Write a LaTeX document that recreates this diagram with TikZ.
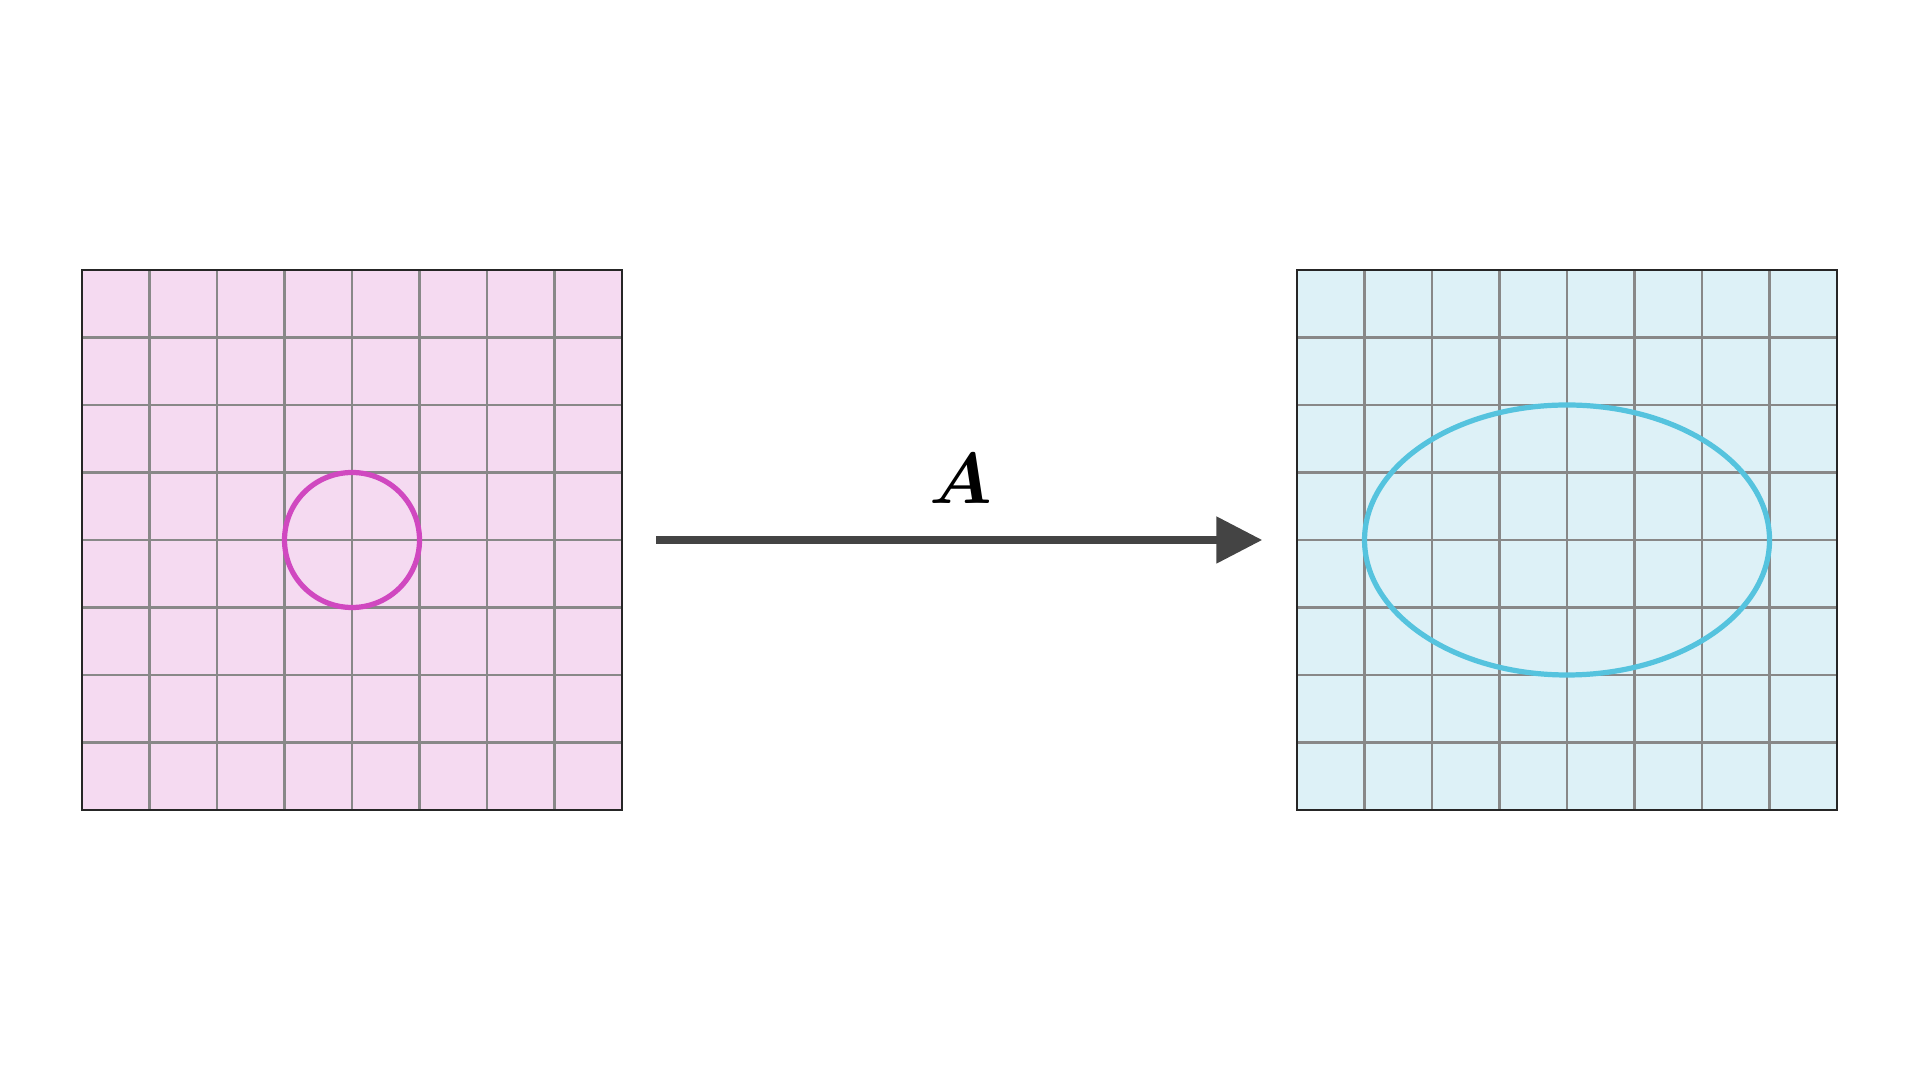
\documentclass[tikz,border=0pt]{standalone}
\usepackage{amsmath,bm}
\usetikzlibrary{arrows.meta}
\definecolor{pinkfill}{HTML}{F5DAF1}
\definecolor{cyanfill}{HTML}{DDF1F7}
\definecolor{circmag}{HTML}{D048C0}
\definecolor{ellcyan}{HTML}{55C3DE}
\definecolor{gridgray}{HTML}{888888}
\definecolor{arrowgray}{HTML}{444444}
\tikzset{
  gridline/.style={draw=gridgray, line width=1.1pt},
  frame/.style={draw=black!85, line width=0.5pt},
  shape curve/.style={line width=2.2pt},
  maparrow/.style={draw=arrowgray, line width=3.2pt, -{Triangle[length=0.68cm,width=0.67cm]}}
}
\begin{document}
\begin{tikzpicture}
\useasboundingbox (0,0) rectangle (28.444,16);
% left plane
\begin{scope}[shift={(1.215,4)}]
\fill[pinkfill] (0,0) rectangle (8,8);
\draw[gridline] (0,0) grid (8,8);
\draw[frame] (0,0) rectangle (8,8);
\draw[shape curve, draw=circmag] (4,4) circle [radius=1];
\end{scope}
% right plane
\begin{scope}[shift={(19.215,4)}]
\fill[cyanfill] (0,0) rectangle (8,8);
\draw[gridline] (0,0) grid (8,8);
\draw[frame] (0,0) rectangle (8,8);
\draw[shape curve, draw=ellcyan] (4,4) ellipse [x radius=3, y radius=2];
\end{scope}
% map arrow
\coordinate (src) at (9.72,8);
\coordinate (dst) at (18.70,8);
\draw[maparrow] (src) -- (dst);
\node[scale=1.22] (lbl) at (14.24,8.9) {\Huge $\bm{A}$};
\end{tikzpicture}
\end{document}
